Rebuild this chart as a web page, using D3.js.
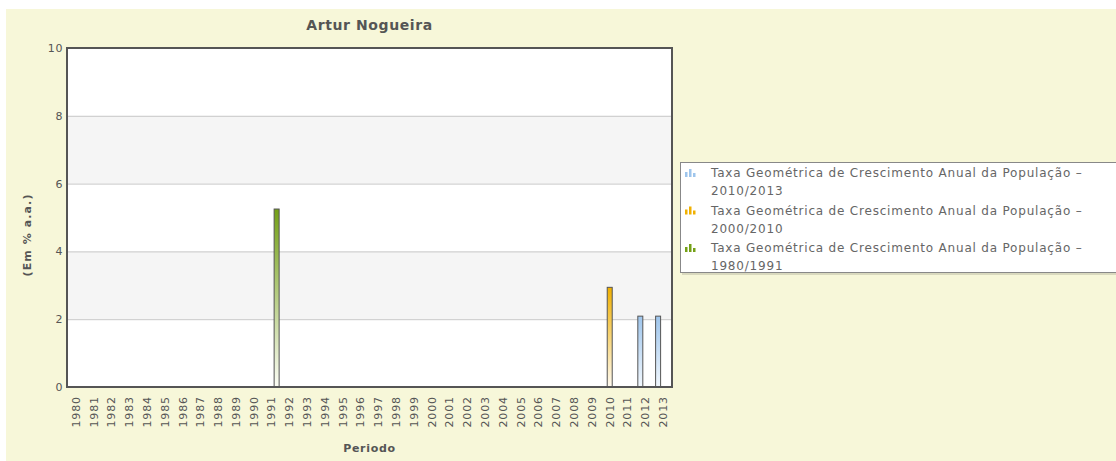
<!DOCTYPE html>
<html><head><meta charset="utf-8">
<script src="https://cdn.jsdelivr.net/npm/d3@7"></script>
<style>body{margin:0;background:#fff;} svg{display:block;font-family:"DejaVu Sans",Verdana,sans-serif;}</style>
</head><body>
<svg id="c" width="1116" height="461"></svg>
<script>
const title = "Artur Nogueira";
const years = d3.range(1980, 2014).map(String);
const seriesNames = [
  "Taxa Geométrica de Crescimento Anual da População – 2010/2013",
  "Taxa Geométrica de Crescimento Anual da População – 2000/2010",
  "Taxa Geométrica de Crescimento Anual da População – 1980/1991"
];
const seriesColors = ["#9ec5ec", "#f0b000", "#74a016"];
const seriesBottom = ["#f2f8fe", "#fffaf0", "#fcfdf5"];
const seriesData = [
  [{year: "2012", value: 2.09}, {year: "2013", value: 2.09}],
  [{year: "2010", value: 2.94}],
  [{year: "1991", value: 5.25}]
];
const yTicks = [0, 2, 4, 6, 8, 10];
const yTitle = "(Em % a.a.)";
const xTitle = "Periodo";

const svg = d3.select("#c");
svg.append("rect").attr("x", 6).attr("y", 9).attr("width", 1110).attr("height", 452).attr("fill", "#f7f7d9");

const L = 67, R = 672, T = 48, B = 387;
const x = d3.scaleBand().domain(years).range([L, R]);
const y = d3.scaleLinear().domain([0, 10]).range([B, T]);
const slot = d3.scaleBand().domain([0, 1, 2]).range([-7.5, 7.5]);

const defs = svg.append("defs");
seriesColors.forEach((c, i) => {
  const g = defs.append("linearGradient").attr("id", "g" + i).attr("x1", 0).attr("y1", 0).attr("x2", 0).attr("y2", 1);
  g.append("stop").attr("offset", "0%").attr("stop-color", c);
  g.append("stop").attr("offset", "100%").attr("stop-color", seriesBottom[i]);
});

// plot background and bands
svg.append("rect").attr("x", L).attr("y", T).attr("width", R - L).attr("height", B - T).attr("fill", "#fff");
[[2, 4], [6, 8]].forEach(([a, b]) => {
  svg.append("rect").attr("x", L).attr("y", y(b)).attr("width", R - L).attr("height", y(a) - y(b)).attr("fill", "#f5f5f5");
});
svg.append("g").selectAll("line").data(yTicks.filter(t => t > 0 && t < 10)).join("line")
  .attr("x1", L).attr("x2", R).attr("y1", d => y(d) + 0.5).attr("y2", d => y(d) + 0.5)
  .attr("stroke", "#c8c8c8").attr("stroke-width", 1);

// bars
seriesData.forEach((data, i) => {
  svg.append("g").selectAll("rect").data(data).join("rect")
    .attr("x", d => x(d.year) + x.bandwidth() / 2 + slot(i) + slot.bandwidth() / 2 - 2.5)
    .attr("y", d => y(d.value))
    .attr("width", 5)
    .attr("height", d => B - y(d.value))
    .attr("fill", `url(#g${i})`)
    .attr("stroke", "#555").attr("stroke-width", 1);
});

// frame
svg.append("rect").attr("x", L).attr("y", T).attr("width", R - L).attr("height", B - T)
  .attr("fill", "none").attr("stroke", "#555").attr("stroke-width", 2);

// y axis
const ya = svg.append("g").attr("transform", `translate(${L - 4},0)`)
  .call(d3.axisLeft(y).tickValues(yTicks).tickSize(0).tickPadding(0));
ya.select(".domain").remove();
ya.selectAll("text").attr("fill", "#555").style("font-size", "11px").style("letter-spacing", "0.6px").style("font-family", "DejaVu Sans, Verdana, sans-serif");

// x axis
const xa = svg.append("g").attr("transform", `translate(0,${B})`)
  .call(d3.axisBottom(x).tickSize(0).tickPadding(0));
xa.select(".domain").remove();
xa.selectAll("text").attr("fill", "#555").style("font-size", "11px").style("letter-spacing", "0.9px").style("font-family", "DejaVu Sans, Verdana, sans-serif")
  .attr("transform", "rotate(-90)").attr("text-anchor", "end").attr("x", -9).attr("y", 0).attr("dy", "0.35em");

// titles
svg.append("text").attr("x", (L + R) / 2).attr("y", 30).attr("text-anchor", "middle")
  .attr("fill", "#555").style("font-size", "14px").style("font-weight", "bold").style("letter-spacing", "0.6px").text(title);
svg.append("text").attr("transform", `translate(31,235) rotate(-90)`).attr("text-anchor", "middle")
  .attr("fill", "#555").style("font-size", "11px").style("font-weight", "bold").style("letter-spacing", "1.1px").text(yTitle);
svg.append("text").attr("x", (L + R) / 2).attr("y", 452).attr("text-anchor", "middle")
  .attr("fill", "#555").style("font-size", "11px").style("font-weight", "bold").style("letter-spacing", "0.7px").text(xTitle);

// legend
const lg = svg.append("g");
lg.append("rect").attr("x", 682).attr("y", 164).attr("width", 440).attr("height", 111).attr("fill", "#000").attr("opacity", 0.12);
lg.append("rect").attr("x", 680.5).attr("y", 162.5).attr("width", 440).attr("height", 110).attr("fill", "#fff").attr("stroke", "#888");
seriesNames.forEach((name, i) => {
  const cy = 173 + i * 37.5;
  const parts = name.split(" – ");
  const g = lg.append("g").attr("transform", `translate(685,${cy})`);
  [[0, 5], [4, 8], [8, 4]].forEach(([dx, h]) => {
    g.append("rect").attr("x", dx).attr("y", 4 - h).attr("width", 2.5).attr("height", h).attr("fill", seriesColors[i]);
  });
  g.append("text").attr("x", 26).attr("y", 4).attr("fill", "#666").style("font-size", "12px").style("letter-spacing", "0.8px").text(parts[0] + " –");
  g.append("text").attr("x", 26).attr("y", 22).attr("fill", "#666").style("font-size", "12px").style("letter-spacing", "0.8px").text(parts[1]);
});
</script>
</body></html>
